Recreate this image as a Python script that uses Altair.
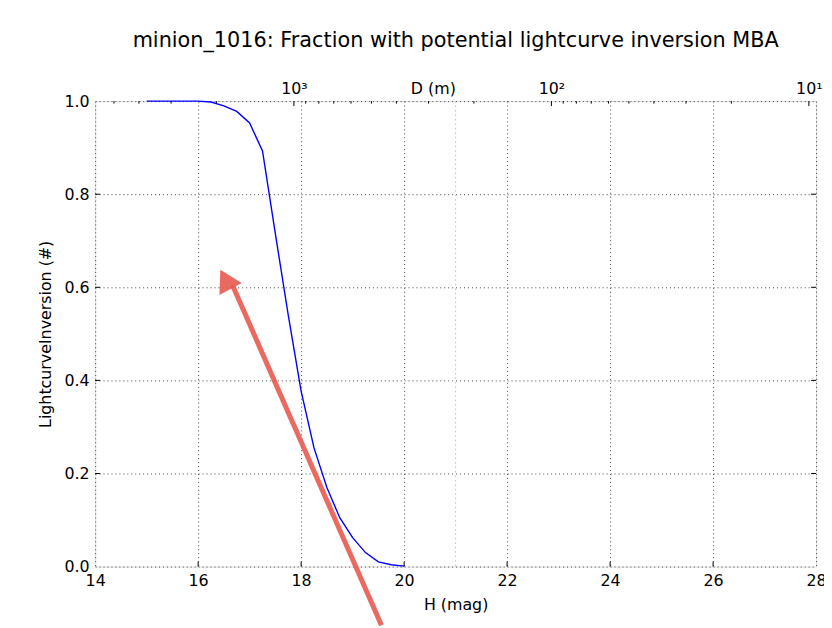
import altair as alt
import pandas as pd

title_text = "minion_1016: Fraction with potential lightcurve inversion MBA"

# blue curve
H_vals = [15.0, 15.25, 15.5, 15.75, 16.0, 16.25, 16.5, 16.75, 17.0, 17.25, 17.5,
          17.75, 18.0, 18.25, 18.5, 18.75, 19.0, 19.25, 19.5, 19.75, 20.0]
frac_vals = [1.0, 1.0, 1.0, 1.0, 1.0, 0.998, 0.99, 0.978, 0.953, 0.893, 0.715,
             0.54, 0.377, 0.255, 0.17, 0.105, 0.062, 0.03, 0.01, 0.004, 0.001]

x_ticks = [14, 16, 18, 20, 22, 24, 26, 28]
y_ticks = [0.0, 0.2, 0.4, 0.6, 0.8, 1.0]
vline_H = [21]

# red hand-drawn arrow
arrow_H = [19.56, 16.67]
arrow_v = [-0.126, 0.604]
arrow_head_H = [16.53]
arrow_head_v = [0.617]

# top axis: diameter
H_at_1km = 17.86
D_major = [10, 100, 1000]
D_minor = [5000, 4000, 3000, 2000, 900, 800, 700, 600, 500, 400, 300, 200,
           90, 80, 70, 60, 50, 40, 30, 20]
D_domain = [10 ** (3 - (28 - H_at_1km) / 5), 10 ** (3 - (14 - H_at_1km) / 5)]

FONT = "DejaVu Sans"
FS = 16

curve = pd.DataFrame({"H": H_vals, "v": frac_vals})
arrow = pd.DataFrame({"H": arrow_H, "v": arrow_v})
head = pd.DataFrame({"H": arrow_head_H, "v": arrow_head_v})
vline = pd.DataFrame({"H": vline_H})
xt = pd.DataFrame({"H": x_ticks[1:-1]})
yt = pd.DataFrame({"v": y_ticks[1:-1]})
dmaj = pd.DataFrame({"D": D_major})
dmin = pd.DataFrame({"D": D_minor})

xaxis = alt.Axis(values=x_ticks, format="d", grid=True, gridColor="#444",
                 gridDash=[1, 3], gridWidth=1, ticks=False, domain=False,
                 labelFont=FONT, labelFontSize=FS, labelColor="black",
                 labelPadding=6, title="H (mag)", titleFont=FONT,
                 titleFontSize=FS, titleFontWeight="normal", titleColor="black",
                 titleBaseline="alphabetic", titleY=43, labelFlush=False)
yaxis = alt.Axis(values=y_ticks, format=".1f", grid=True, gridColor="#444",
                 gridDash=[1, 3], gridWidth=1, ticks=False, domain=False,
                 labelFont=FONT, labelFontSize=FS, labelColor="black",
                 labelPadding=6, title="LightcurveInversion (#)", titleFont=FONT,
                 titleFontSize=FS, titleFontWeight="normal", titleColor="black",
                 titleBaseline="alphabetic", titleX=-45, titleY=235,
                 titleAngle=-90, titleAlign="center", labelFlush=False)

xs = alt.Scale(domain=[14, 28], nice=False, zero=False)
ys = alt.Scale(domain=[0, 1], nice=False, zero=False)


def X():
    return alt.X("H:Q", scale=xs, axis=xaxis)


def Y():
    return alt.Y("v:Q", scale=ys, axis=yaxis)


line = alt.Chart(curve).mark_line(color="#0000ff", strokeWidth=1.4).encode(x=X(), y=Y())
pink = alt.Chart(vline).mark_rule(color="#f5a3a3", strokeDash=[1.5, 3], strokeWidth=1).encode(x=X())
arr = alt.Chart(arrow).mark_line(color="#e8594f", strokeWidth=5, opacity=0.9).encode(x=X(), y=Y())
arrh = alt.Chart(head).mark_point(shape="triangle-up", filled=True, color="#e8594f",
                                 size=650, angle=332, opacity=0.9).encode(x=X(), y=Y())
bt = alt.Chart(xt).mark_rule(color="black", strokeWidth=1).encode(
    x=X(), y=alt.value(470), y2=alt.value(465))
lt = alt.Chart(yt).mark_rule(color="black", strokeWidth=1).encode(
    y=Y(), x=alt.value(0), x2=alt.value(5))
rt = alt.Chart(yt).mark_rule(color="black", strokeWidth=1).encode(
    y=Y(), x=alt.value(728), x2=alt.value(723))

hlayer = alt.layer(pink, line, bt, lt, rt, arr, arrh)

ds = alt.Scale(type="log", domain=D_domain, reverse=True, nice=False)
daxis = alt.Axis(orient="top", values=D_major, ticks=False, domain=False, grid=False,
                 labelExpr="datum.value == 1000 ? '10³' : datum.value == 100 ? '10²' : '10¹'",
                 labelFont=FONT, labelFontSize=FS, labelColor="black",
                 labelBaseline="alphabetic", labelPadding=8, labelFlush=False,
                 title="D (m)", titleFont=FONT, titleFontSize=FS,
                 titleFontWeight="normal", titleColor="black",
                 titleBaseline="alphabetic", titleX=341, titleY=-8)
dmaj_r = alt.Chart(dmaj).mark_rule(color="black", strokeWidth=1).encode(
    x=alt.X("D:Q", scale=ds, axis=daxis), y=alt.value(0), y2=alt.value(5))
dmin_r = alt.Chart(dmin).mark_rule(color="black", strokeWidth=1).encode(
    x=alt.X("D:Q", scale=ds, axis=daxis), y=alt.value(0), y2=alt.value(2.5))
dlayer = alt.layer(dmaj_r, dmin_r)

chart = alt.layer(hlayer, dlayer).resolve_scale(x="independent").properties(
    width=728, height=470,
    title=alt.TitleParams(title_text, font=FONT, fontSize=21, fontWeight="normal",
                          color="black", anchor="middle", offset=30),
    autosize=alt.AutoSizeParams(type="none"),
    padding={"left": 88, "top": 91, "right": 8, "bottom": 59},
).configure_view(stroke="black", strokeWidth=1.4).configure(background="white")

chart.save("out.html", embed_options={"renderer": "svg", "actions": False})
